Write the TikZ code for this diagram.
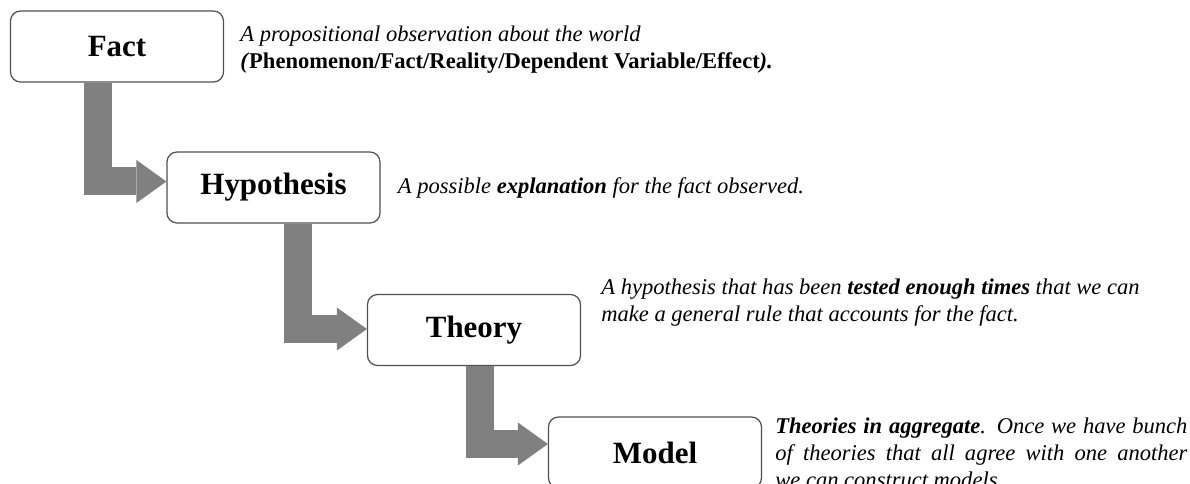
\documentclass[tikz,border=0pt]{standalone}
\usepackage{fontspec}
\setmainfont{Liberation Serif}
\usetikzlibrary{arrows.meta}
\usetikzlibrary{calc}
\usetikzlibrary{positioning}
\definecolor{flowgray}{RGB}{128,128,128}
\definecolor{boxline}{RGB}{80,80,80}
\tikzset{stage/.style = {draw = boxline, line width = 0.9pt, rounded corners = 7.5pt, fill = white,
    minimum width = 159.75pt, minimum height = 53.25pt, inner sep = 0,
    font = \fontsize{23.2}{28}\selectfont\bfseries}}
\tikzset{note/.style = {inner sep = 0, align = left, font = \fontsize{16.9}{20.25}\selectfont\itshape}}
\tikzset{flow/.style = {draw = flowgray, line width = 21pt,
    -{Triangle[width = 32.25pt, length = 22.5pt, line width = 0pt]}}}

\begin{document}
\begin{tikzpicture}[x = 0.75pt, y = 0.75pt]
    \useasboundingbox (0, 0) rectangle (1190, -484);

    \node [stage] (fact) at (117, -46.5) {Fact};
    \node [stage] (hyp) at (273.5, -187.5) {Hypothesis};
    \node [stage] (theory) at (474, -330) {Theory};
    \node [stage] (model) at (655, -452.5) {Model};

    \draw [flow] ($(fact.south) + (-19, 0)$) |- ($(hyp.west) + (0, 6)$);
    \draw [flow] ($(hyp.south) + (24, 0)$) |- ($(theory.west) + (0, 1)$);
    \draw [flow] ($(theory.south) + (5.5, 0)$) |- ($(model.west) + (0, 8.5)$);

    \node [note, right = 12pt of fact, yshift = -2.25pt] (facttext)
        {A propositional observation about the world\\
         \textbf{(\textup{Phenomenon/Fact/Reality/Dependent Variable/Effect}).}};
    \node [note, right = 12.75pt of hyp] (hyptext)
        {A possible \textbf{explanation} for the fact observed.};
    \node [note, right = 15pt of theory, yshift = 20.25pt] (theorytext)
        {A hypothesis that has been \textbf{tested enough times} that we can\\
         make a general rule that accounts for the fact.};
    \node [note, text width = 309pt, align = justify, right = 9.75pt of model] (modeltext)
        {\textbf{Theories in aggregate}. Once we have bunch\linebreak
         of theories that all agree with one another\linebreak
         we can construct models.};
  \end{tikzpicture}
\end{document}
